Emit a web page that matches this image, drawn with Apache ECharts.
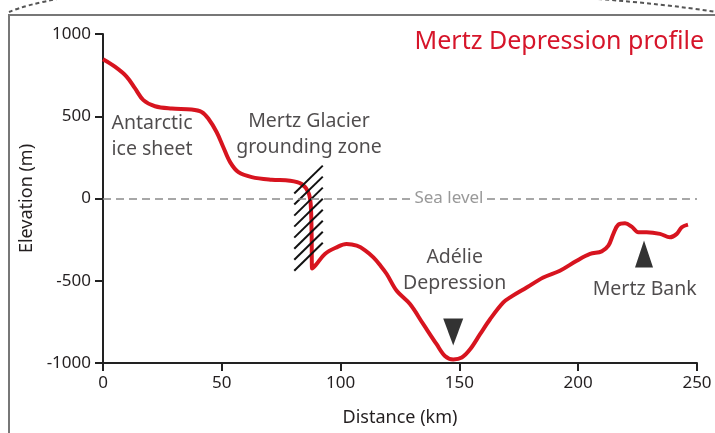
<!DOCTYPE html>
<html>
<head>
<meta charset="utf-8">
<script src="https://cdn.jsdelivr.net/npm/echarts@6/dist/echarts.min.js"></script>
<style>html,body{margin:0;padding:0;background:#fff}#c{width:715px;height:433px}</style>
</head>
<body>
<div id="c"></div>
<script>
// Profile data: distance (km) and elevation (m)
const distanceKm = [0,5,10,13.5,17,21.9,28.9,37.3,41.5,44.3,47.8,50.6,53.5,57,62.6,71,78.7,83.6,86.4,87.4,87.8,88.0,89.5,93.4,98.3,102.5,106.8,110.3,113.8,116.6,119.4,123.6,129.2,134.8,140.4,143.9,147.4,151,154.5,158.7,162.9,168.5,172,178.3,185.3,192.3,199.4,205,209.9,212.7,214.8,216.9,219.7,222.5,225.3,228.8,234.4,238.6,241.5,243.6,246.2];
const elevationM = [846,801,740,669,598,561,547,541,526,486,404,313,221,160,130,114,108,88,38,-32,-215,-425,-405,-337,-297,-277,-287,-315,-358,-405,-459,-561,-642,-764,-886,-957,-978,-967,-917,-825,-734,-632,-595,-541,-480,-439,-378,-337,-321,-287,-215,-159,-151,-171,-205,-205,-215,-236,-215,-175,-159];
const xTicks = [0,50,100,150,200,250];
const yTicks = [-1000,-500,0,500,1000];
const seaLevel = 0;
const seaLabelKm = 145.6;
const seaGapKm = [129.6, 161.6];
const adelieMarker = [147.4,-811];
const mertzBankMarker = [227.7,-338];
const hatchCount = 8;

const profile = distanceKm.map((d,i)=>[d, elevationM[i]]);
const FONT = '"Noto Sans", "Open Sans", sans-serif';
const TXT = '#231f20';

const hatch = [];
for (let k=0;k<hatchCount;k++){
  hatch.push([{coord:[80.5, 30-67*k]},{coord:[92.5, 200-67*k]}]);
}

const chart = echarts.init(document.getElementById('c'), null, {renderer:'canvas'});
chart.setOption({
  animation:false,
  backgroundColor:'#fff',
  title:{text:'Mertz Depression profile', right:6, top:24,
    textStyle:{color:'#d6152a', fontSize:25, fontWeight:'normal', fontFamily:FONT}},
  grid:{left:103, right:18, top:34, bottom:70},
  xAxis:{type:'value', min:xTicks[0], max:xTicks[xTicks.length-1], interval:50,
    name:'Distance (km)', nameLocation:'middle', nameGap:46,
    nameTextStyle:{fontSize:18, color:TXT, fontFamily:FONT},
    axisLine:{show:true, onZero:false, lineStyle:{color:'#222', width:2}},
    axisTick:{show:true, length:8, lineStyle:{color:'#222', width:2}},
    axisLabel:{fontSize:17, color:TXT, margin:12, fontFamily:FONT, formatter:v=>String(v)},
    splitLine:{show:false}},
  yAxis:{type:'value', min:yTicks[0], max:yTicks[yTicks.length-1], interval:500,
    name:'Elevation (m)', nameLocation:'middle', nameGap:49,
    nameTextStyle:{fontSize:18, color:TXT, fontFamily:FONT},
    axisLine:{show:true, onZero:false, lineStyle:{color:'#222', width:2}},
    axisTick:{show:true, length:8, lineStyle:{color:'#222', width:2}},
    axisLabel:{fontSize:17, color:TXT, margin:12, fontFamily:FONT, formatter:v=>String(v)},
    splitLine:{show:false}},
  series:[
    {type:'line', data:[], silent:true, z:1,
      markLine:{silent:true, symbol:['none','none'], label:{show:false},
        lineStyle:{color:'#111', width:2, type:'solid'}, data:hatch}},
    {type:'line', data:[], silent:true, z:1,
      markLine:{silent:true, symbol:['none','none'], label:{show:false},
        lineStyle:{color:'#8a8a8a', width:1.6, type:[8,5]},
        data:[
          [{coord:[xTicks[0],seaLevel]},{coord:[seaGapKm[0],seaLevel]}],
          [{coord:[seaGapKm[1],seaLevel]},{coord:[xTicks[xTicks.length-1],seaLevel]}]
        ]}},
    {type:'scatter', symbolSize:0, z:8, clip:false, silent:true,
      label:{show:true, position:'inside', formatter:'Sea level', color:'#808080', fontSize:17, fontFamily:FONT},
      data:[[seaLabelKm, seaLevel]]},
    {type:'line', data:profile, smooth:0.35, showSymbol:false, z:3,
      lineStyle:{color:'#d7141f', width:4}},
    {type:'scatter', data:[adelieMarker], symbol:'triangle', symbolRotate:180, symbolSize:[20,27],
      itemStyle:{color:'#000'}, z:4},
    {type:'scatter', data:[mertzBankMarker], symbol:'triangle', symbolSize:[18,27],
      itemStyle:{color:'#000'}, z:4},
    {type:'scatter', symbolSize:0, z:8, clip:false, silent:true,
      label:{show:true, position:'inside', color:TXT, fontSize:19.5, fontFamily:FONT, lineHeight:26,
        formatter:p=>p.data.t, align:'center', verticalAlign:'middle'},
      data:[
        {value:[3.6,378], t:'Antarctic\nice sheet', label:{align:'left'}},
        {value:[86.7,390], t:'Mertz Glacier\ngrounding zone'},
        {value:[148,-439], t:'Adélie\nDepression'},
        {value:[228,-555], t:'Mertz Bank'}
      ]}
  ],
  graphic:[
    {type:'polyline', shape:{points:[[9,433],[9,15],[715,15]]}, style:{stroke:'#777', lineWidth:2, fill:null}, z:-1},
    {type:'bezierCurve', shape:{x1:9,y1:12,cpx1:25,cpy1:5,x2:62,y2:-2}, style:{stroke:'#555', lineWidth:2, lineDash:[4,3], fill:null}},
    {type:'bezierCurve', shape:{x1:598,y1:-1,cpx1:665,cpy1:4,x2:716,y2:12}, style:{stroke:'#555', lineWidth:2, lineDash:[4,3], fill:null}}
  ]
});
</script>
</body>
</html>
